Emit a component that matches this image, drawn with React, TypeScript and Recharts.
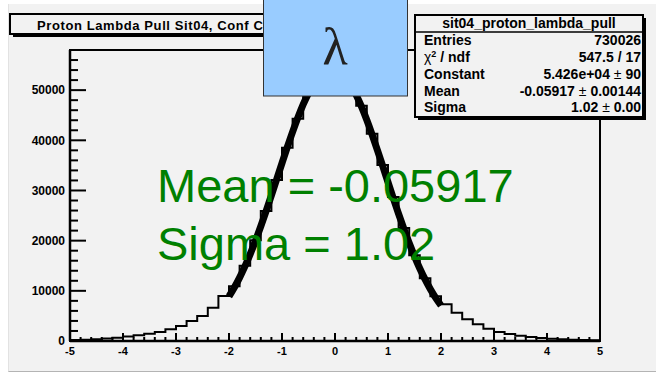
import React from 'react';
import { ComposedChart, Line, XAxis, YAxis, ReferenceArea } from 'recharts';

// histogram bin edges (-5 .. 5, width 0.2) and counts per bin
const binEdges = [
  -5, -4.8, -4.6, -4.4, -4.2, -4, -3.8, -3.6, -3.4, -3.2,
  -3, -2.8, -2.6, -2.4, -2.2, -2, -1.8, -1.6, -1.4, -1.2,
  -1, -0.8, -0.6, -0.4, -0.2, 0, 0.2, 0.4, 0.6, 0.8,
  1, 1.2, 1.4, 1.6, 1.8, 2, 2.2, 2.4, 2.6, 2.8,
  3, 3.2, 3.4, 3.6, 3.8, 4, 4.2, 4.4, 4.6, 4.8, 5,
];
const binCounts = [
  190, 260, 360, 480, 640, 900, 1130, 1470, 1800, 2330,
  3000, 3990, 4980, 6650, 8960, 10900, 15000, 20100, 25900, 32100,
  38500, 44300, 49200, 52700, 54300, 53700, 51200, 46900, 41300, 35100,
  28700, 22500, 17100, 12500, 8900, 7310, 5650, 4320, 3320, 2460,
  1800, 1400, 1060, 800, 600, 450, 340, 250, 180, 130,
];

// gaussian fit curve, drawn over -2 .. 2
const fitX = [
  -2, -1.9, -1.8, -1.7, -1.6, -1.5, -1.4, -1.3, -1.2, -1.1,
  -1, -0.9, -0.8, -0.7, -0.6, -0.5, -0.4, -0.3, -0.2, -0.1,
  0, 0.1, 0.2, 0.3, 0.4, 0.5, 0.6, 0.7, 0.8, 0.9,
  1, 1.1, 1.2, 1.3, 1.4, 1.5, 1.6, 1.7, 1.8, 1.9, 2,
];
const fitY = [
  8877, 10646, 12643, 14874, 17331, 20001, 22865, 25888, 29024, 32236,
  35453, 38622, 41677, 44537, 47141, 49420, 51308, 52768, 53745, 54216,
  54169, 53604, 52539, 50999, 49035, 46696, 44037, 41134, 38058, 34878,
  31650, 28454, 25329, 22333, 19506, 16875, 14455, 12268, 10309, 8579, 7076,
];

const yTicks = [
  0, 2000, 4000, 6000, 8000, 10000, 12000, 14000, 16000, 18000,
  20000, 22000, 24000, 26000, 28000, 30000, 32000, 34000, 36000, 38000,
  40000, 42000, 44000, 46000, 48000, 50000, 52000, 54000, 56000,
];

const statsRows = [
  { label: 'Entries', value: '730026' },
  { label: 'chi2', value: '547.5 / 17' },
  { label: 'Constant', value: '5.426e+04', err: '90' },
  { label: 'Mean', value: '-0.05917', err: '0.00144' },
  { label: 'Sigma', value: '1.02', err: '0.00' },
];

const FONT = '"Liberation Sans", Arial, Helvetica, sans-serif';
const TICK_MARGIN_Y = 5;
const TICK_MARGIN_X = 6;

const histRows = binEdges.map((x, i) => ({ x, y: binCounts[Math.min(i, binCounts.length - 1)] }));
const fitRows = fitX.map((x, i) => ({ x, y: fitY[i] }));

function YTick(props: any) {
  const { x, y, payload } = props;
  const v = payload.value;
  const major = v % 10000 === 0;
  const ax = x + TICK_MARGIN_Y;
  return (
    <g>
      <line x1={ax} x2={ax + (major ? 16 : 8)} y1={y} y2={y} stroke="#000" strokeWidth={2} />
      {major && (
        <text x={x} y={y} dy="0.36em" textAnchor="end" fontFamily={FONT} fontWeight="bold" fontSize={12} fill="#000">
          {v}
        </text>
      )}
    </g>
  );
}

function XTick(props: any) {
  const { x, y, payload } = props;
  const v = payload.value;
  const major = Math.abs(v - Math.round(v)) < 1e-6;
  const ay = y - TICK_MARGIN_X;
  return (
    <g>
      <line x1={x} x2={x} y1={ay} y2={ay - (major ? 8 : 4)} stroke="#000" strokeWidth={2} />
      {major && (
        <text x={x} y={y} dy="0.72em" textAnchor="middle" fontFamily={FONT} fontWeight="bold" fontSize={11} fill="#000">
          {Math.round(v)}
        </text>
      )}
    </g>
  );
}

function Overlay() {
  const rowY = [45, 62, 79, 96, 112];
  return (
    <svg width={656} height={373} style={{ position: 'absolute', left: 0, top: 0, pointerEvents: 'none' }}>
      {/* title box */}
      <rect x={13} y={17} width={260} height={20} fill="#000" />
      <rect x={10} y={14} width={260} height={20} fill="#f2f2f2" stroke="#000" strokeWidth={2} />
      <text x={37} y={30} fontFamily={FONT} fontWeight="bold" fontSize={13} letterSpacing={0.6} fill="#000">
        Proton Lambda Pull Sit04, Conf C
      </text>

      {/* stats box */}
      <rect x={418} y={18} width={228} height={102} fill="#000" />
      <rect x={415} y={15} width={228} height={102} fill="#f2f2f2" stroke="#000" strokeWidth={2} />
      <line x1={415} x2={643} y1={32} y2={32} stroke="#000" strokeWidth={1.5} />
      <text x={529} y={28} textAnchor="middle" fontFamily={FONT} fontWeight="bold" fontSize={14}>
        sit04_proton_lambda_pull
      </text>
      {statsRows.map((r, i) => (
        <g key={r.label} fontFamily={FONT} fontWeight="bold" fontSize={14} fill="#000">
          <text x={424} y={rowY[i]}>
            {r.label === 'chi2' ? (
              <>
                <tspan fontWeight="normal">χ</tspan>
                <tspan dy={-5} fontSize={9}>2</tspan>
                <tspan dy={5}> / ndf</tspan>
              </>
            ) : (
              r.label
            )}
          </text>
          <text x={641} y={rowY[i]} textAnchor="end">
            {r.value}
            {r.err && (
              <>
                <tspan fontWeight="normal"> ± </tspan>
                {r.err}
              </>
            )}
          </text>
        </g>
      ))}

      {/* lambda box */}
      <rect x={263.5} y={-1} width={144} height={97} fill="#99ccff" stroke="#333" strokeWidth={1} />
      <text x={335} y={64} textAnchor="middle" fontFamily='"Liberation Serif", "Times New Roman", serif' fontSize={52} fill="#222">
        λ
      </text>

      {/* fit results */}
      <text x={157} y={202} fontFamily={FONT} fontSize={47} fill="#008000">
        Mean = -0.05917
      </text>
      <text x={157} y={260} fontFamily={FONT} fontSize={47} fill="#008000">
        Sigma = 1.02
      </text>
    </svg>
  );
}

export default function App() {
  return (
    <div style={{ position: 'absolute', left: 0, top: 0, width: 656, height: 373, background: '#fff' }}>
      <div
        style={{
          position: 'absolute',
          left: 8,
          top: 4,
          width: 648,
          height: 367,
          background: '#f2f2f2',
          borderBottom: '1px solid #b4b4b4',
          borderLeft: '1px solid #e2e2e2',
        }}
      />
      <div style={{ position: 'absolute', left: 0, top: 0 }}>
        <ComposedChart width={656} height={373} margin={{ top: 50, right: 56, bottom: 12, left: 8 }}>
          <XAxis
            type="number"
            dataKey="x"
            domain={[-5, 5]}
            ticks={binEdges}
            interval={0}
            allowDataOverflow
            height={20}
            tickSize={0}
            tickMargin={TICK_MARGIN_X}
            tickLine={false}
            axisLine={{ stroke: '#000', strokeWidth: 2.5 }}
            tick={(p: any) => <XTick {...p} />}
          />
          <YAxis
            type="number"
            domain={[0, 58000]}
            ticks={yTicks}
            interval={0}
            allowDataOverflow
            width={62}
            tickSize={0}
            tickMargin={TICK_MARGIN_Y}
            tickLine={false}
            axisLine={{ stroke: '#000', strokeWidth: 2.5 }}
            tick={(p: any) => <YTick {...p} />}
          />
          <ReferenceArea x1={-5} x2={5} y1={0} y2={58000} fill="none" stroke="#000" strokeWidth={2} ifOverflow="visible" />
          <Line
            data={histRows}
            dataKey="y"
            type="stepAfter"
            stroke="#000"
            strokeWidth={2}
            dot={false}
            isAnimationActive={false}
          />
          <Line
            data={fitRows}
            dataKey="y"
            type="monotone"
            stroke="#000"
            strokeWidth={7}
            dot={false}
            isAnimationActive={false}
          />
        </ComposedChart>
      </div>
      <Overlay />
    </div>
  );
}
